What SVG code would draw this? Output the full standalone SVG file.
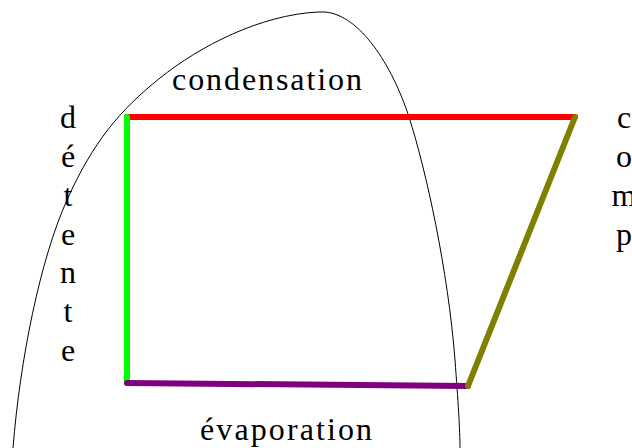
<svg xmlns="http://www.w3.org/2000/svg" width="632" height="448" viewBox="0 0 632 448">
<style>
.lbl{font-family:"Liberation Serif","Times New Roman",serif;font-size:32px;fill:#000}
.v{text-anchor:middle}
.seg{stroke-width:6;stroke-linecap:round;fill:none}
</style>
<rect width="632" height="448" fill="#fff"/>
<g id="saturation-curve">
<path d="M13,448 C20,360 40,260 67,200 C93,142 120,110 160,78 C200,46 260,15 318,12 L325,12 C360,15 392,65 409,117 C426,170 448,270 455,360 C458,400 460,430 460,448" fill="none" stroke="#000" stroke-width="1"/>
</g>
<g id="connectors">
<line id="condensation-line" class="seg" x1="127" y1="117" x2="575" y2="117" stroke="#ff0000"/>
<line id="detente-line" class="seg" x1="127" y1="117" x2="127" y2="383" stroke="#00ff00"/>
<line id="evaporation-line" class="seg" x1="127" y1="383" x2="468" y2="386" stroke="#800080"/>
<line id="compression-line" class="seg" x1="468" y1="386" x2="575" y2="117" stroke="#808000"/>
</g>
<g id="label-condensation"><text class="lbl" x="172" y="90" textLength="190" lengthAdjust="spacing">condensation</text></g>
<g id="label-evaporation"><text class="lbl" x="200" y="440" textLength="172" lengthAdjust="spacing">évaporation</text></g>
<g id="label-detente">
<text class="lbl v" x="68" y="128">d</text>
<text class="lbl v" x="68" y="167">é</text>
<text class="lbl v" x="68" y="206">t</text>
<text class="lbl v" x="68" y="245">e</text>
<text class="lbl v" x="68" y="283">n</text>
<text class="lbl v" x="68" y="322">t</text>
<text class="lbl v" x="68" y="361">e</text>
</g>
<g id="label-compression">
<text class="lbl v" x="624" y="128">c</text>
<text class="lbl v" x="624" y="167">o</text>
<text class="lbl v" x="624" y="206">m</text>
<text class="lbl v" x="624" y="245">p</text>
</g>
</svg>
